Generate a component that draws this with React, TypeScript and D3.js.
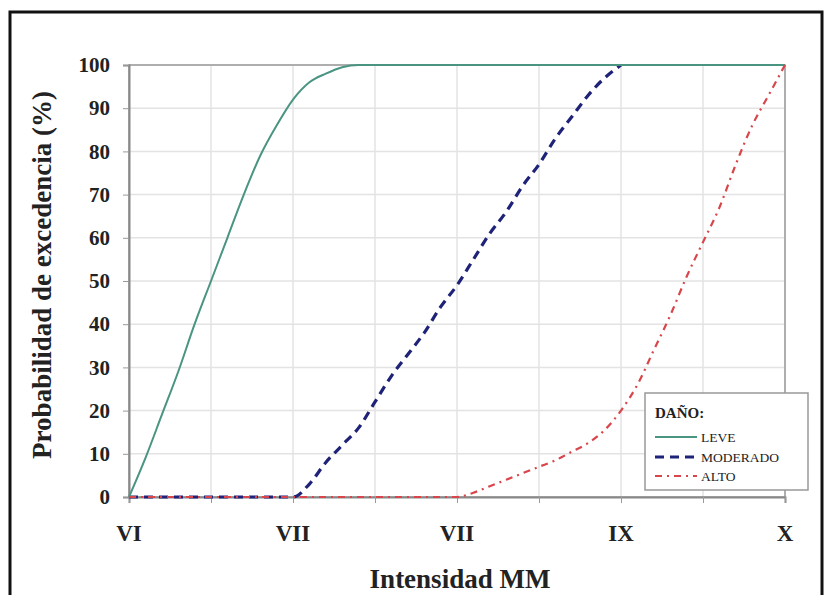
import React, { useEffect, useRef } from "react";
import * as d3 from "d3";

// intensity (MM) vs probability of exceedance (%)
const leve: [number, number][] = [
  [6.0, 0], [6.1, 9], [6.2, 19], [6.3, 29], [6.4, 40], [6.5, 50], [6.6, 60],
  [6.7, 70], [6.8, 79], [6.9, 86], [7.0, 92], [7.1, 96], [7.2, 98], [7.3, 99.5],
  [7.4, 100], [8.0, 100], [9.0, 100], [10.0, 100],
];
const moderado: [number, number][] = [
  [6.0, 0], [7.0, 0], [7.1, 3], [7.2, 8], [7.3, 12], [7.4, 16], [7.5, 22],
  [7.6, 28], [7.7, 33], [7.8, 38], [7.9, 44], [8.0, 49], [8.1, 55], [8.2, 61],
  [8.3, 66], [8.4, 72], [8.5, 77], [8.6, 83], [8.7, 88], [8.8, 93], [8.9, 97],
  [9.0, 100],
];
const alto: [number, number][] = [
  [6.0, 0], [8.0, 0], [8.1, 1], [8.2, 2.5], [8.3, 4], [8.4, 5.5], [8.5, 7],
  [8.6, 8.5], [8.7, 10.5], [8.8, 12.5], [8.9, 15.5], [9.0, 20], [9.1, 26],
  [9.2, 34], [9.3, 42], [9.4, 51], [9.5, 59], [9.6, 67], [9.7, 77], [9.8, 86],
  [9.9, 93], [10.0, 100],
];

const xTickValues = [6, 7, 8, 9, 10];
const xTickLabels = ["VI", "VII", "VII", "IX", "X"];
const xMinorTicks = [6, 6.5, 7, 7.5, 8, 8.5, 9, 9.5, 10];
const yTicks = [0, 10, 20, 30, 40, 50, 60, 70, 80, 90, 100];

const seriesNames = ["LEVE", "MODERADO", "ALTO"];

export default function App() {
  const ref = useRef<SVGSVGElement>(null);

  useEffect(() => {
    const svg = d3.select(ref.current);
    svg.selectAll("*").remove();

    const left = 129, right = 785, top = 65, bottom = 497;

    const x = d3.scaleLinear().domain([6, 10]).range([left, right]);
    const y = d3.scaleLinear().domain([0, 100]).range([bottom, top]);

    // background + outer frame
    svg.append("rect").attr("width", 828).attr("height", 595).attr("fill", "#fff");
    svg.append("rect")
      .attr("x", 10).attr("y", 12)
      .attr("width", 812).attr("height", 620)
      .attr("fill", "none").attr("stroke", "#111").attr("stroke-width", 3);

    // grid
    const g = svg.append("g");
    g.selectAll(".hg").data(yTicks).enter().append("line")
      .attr("x1", left).attr("x2", right)
      .attr("y1", d => y(d)).attr("y2", d => y(d))
      .attr("stroke", "#e3e3e3").attr("stroke-width", 1.5);
    g.selectAll(".vg").data(xMinorTicks).enter().append("line")
      .attr("x1", d => x(d)).attr("x2", d => x(d))
      .attr("y1", top).attr("y2", bottom)
      .attr("stroke", "#e3e3e3").attr("stroke-width", 1.5);

    // plot border
    g.append("rect")
      .attr("x", left).attr("y", top)
      .attr("width", right - left).attr("height", bottom - top)
      .attr("fill", "none").attr("stroke", "#9a9a9a").attr("stroke-width", 1.5);

    // y axis
    const yAxis = svg.append("g")
      .attr("transform", `translate(${left},0)`)
      .call(d3.axisLeft(y).tickValues(yTicks).tickSize(6).tickPadding(13));
    yAxis.select(".domain").attr("stroke", "#888").attr("stroke-width", 2);
    yAxis.selectAll(".tick line").attr("stroke", "#999");
    yAxis.selectAll(".tick text")
      .attr("font-family", "'Liberation Serif', serif")
      .attr("font-weight", "bold").attr("font-size", 21).attr("fill", "#222");

    // x axis
    const xAxis = svg.append("g")
      .attr("transform", `translate(0,${bottom})`)
      .call(d3.axisBottom(x).tickValues(xMinorTicks).tickSize(6).tickFormat(() => ""));
    xAxis.select(".domain").attr("stroke", "#888").attr("stroke-width", 2);
    xAxis.selectAll(".tick line").attr("stroke", "#999");

    svg.append("g").selectAll("text").data(xTickValues).enter().append("text")
      .attr("x", d => x(d)).attr("y", 541)
      .attr("text-anchor", "middle")
      .attr("font-family", "'Liberation Serif', serif")
      .attr("font-weight", "bold").attr("font-size", 23).attr("fill", "#222")
      .text((d, i) => xTickLabels[i]);

    // axis titles
    svg.append("text")
      .attr("x", 460).attr("y", 588)
      .attr("text-anchor", "middle")
      .attr("font-family", "'Liberation Serif', serif")
      .attr("font-weight", "bold").attr("font-size", 27).attr("fill", "#222")
      .text("Intensidad MM");
    svg.append("text")
      .attr("transform", "translate(51,275) rotate(-90)")
      .attr("text-anchor", "middle")
      .attr("font-family", "'Liberation Serif', serif")
      .attr("font-weight", "bold").attr("font-size", 27).attr("fill", "#222")
      .text("Probabilidad de excedencia (%)");

    // curves
    const line = d3.line<[number, number]>()
      .x(d => x(d[0])).y(d => y(d[1]))
      .curve(d3.curveMonotoneX);

    const styles = [
      { data: leve, color: "#4a9482", width: 2, dash: "" },
      { data: moderado, color: "#1f2378", width: 3.2, dash: "9,6" },
      { data: alto, color: "#d8454a", width: 2.2, dash: "7,5,2,5" },
    ];
    const order = [1, 0, 2];
    order.forEach(i => {
      const s = styles[i];
      svg.append("path")
        .attr("d", line(s.data) as string)
        .attr("fill", "none")
        .attr("stroke", s.color)
        .attr("stroke-width", s.width)
        .attr("stroke-dasharray", s.dash || null);
    });

    // legend
    const lg = svg.append("g");
    lg.append("rect")
      .attr("x", 645).attr("y", 393).attr("width", 163).attr("height", 97)
      .attr("fill", "#fff").attr("stroke", "#999").attr("stroke-width", 1.5);
    lg.append("text")
      .attr("x", 655).attr("y", 418)
      .attr("font-family", "'Liberation Serif', serif")
      .attr("font-weight", "bold").attr("font-size", 15).attr("fill", "#222")
      .text("DAÑO:");
    const rowY = [437, 457, 476];
    seriesNames.forEach((name, i) => {
      const s = styles[i];
      lg.append("line")
        .attr("x1", 655).attr("x2", 697)
        .attr("y1", rowY[i]).attr("y2", rowY[i])
        .attr("stroke", s.color).attr("stroke-width", s.width)
        .attr("stroke-dasharray", s.dash || null);
      lg.append("text")
        .attr("x", 701).attr("y", rowY[i] + 5)
        .attr("font-family", "'Liberation Serif', serif")
        .attr("font-size", 13.5).attr("fill", "#222")
        .text(name);
    });
  }, []);

  return (
    <svg
      ref={ref}
      width={828}
      height={595}
      style={{ position: "absolute", left: 0, top: 0 }}
    />
  );
}
